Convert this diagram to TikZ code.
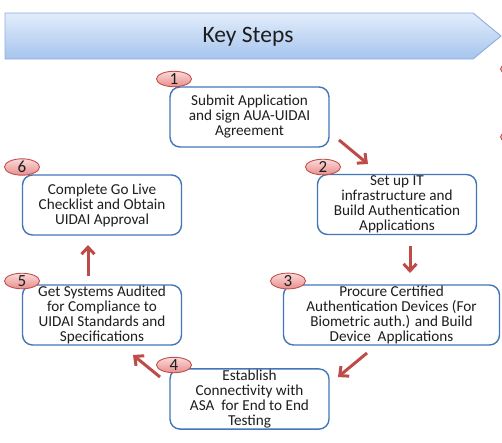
\documentclass[tikz,border=0pt]{standalone}
\usepackage{fontspec}
\setmainfont{Carlito}
\usetikzlibrary{arrows.meta,shapes.geometric}
\definecolor{boxblue}{HTML}{4276B8}
\definecolor{arrred}{HTML}{BE4B48}
\definecolor{badgeline}{HTML}{C0504D}
\definecolor{badgetop}{HTML}{FBD9D8}
\definecolor{badgebot}{HTML}{E88F8C}
\definecolor{bantop}{HTML}{E2EDFB}
\definecolor{banbot}{HTML}{A6C4EE}
\definecolor{banline}{HTML}{8EAEDB}
\definecolor{txt}{HTML}{1E1E1E}
\tikzset{
  stepbox/.style={draw=boxblue, line width=1.4pt, fill=white, rounded corners=10pt,
    minimum width=159pt, minimum height=60pt, align=center, text=txt,
    font=\fontsize{15.2}{15}\selectfont, inner sep=1pt},
  badge/.style={ellipse, draw=badgeline, line width=0.9pt, top color=badgetop, bottom color=badgebot,
    minimum width=35pt, minimum height=14pt, inner sep=0pt, text=txt,
    font=\fontsize{17}{17}\selectfont},
  arr/.style={draw=arrred, line width=3pt, -{Straight Barb[length=7pt,width=13pt,line width=3pt]}}
}
\begin{document}
\begin{tikzpicture}[x=1pt,y=-1pt]
\useasboundingbox (0,0) rectangle (502,442);
\clip (0,0) rectangle (502,442);
% banner
\draw[banline, line width=0.9pt, top color=bantop, bottom color=banbot]
  (5,13) -- (473,13) -- (501,36) -- (473,59) -- (5,59) -- cycle;
\node[text=txt, font=\fontsize{23.5}{23.5}\selectfont] (title) at (248,37) {Key Steps};
% edge badges (cut off)
\node[badge] (e1) at (518,69) {};
\node[badge] (e2) at (518,137) {};
% boxes
\node[stepbox] (b1) at (249.5,117) {Submit Application\\and sign AUA-UIDAI\\Agreement};
\node[stepbox] (b2) at (397,204.5) {Set up IT\\infrastructure and\\Build Authentication\\Applications};
\node[stepbox, minimum width=216pt] (b3) at (391.5,315) {Procure Certified\\Authentication Devices (For\\Biometric auth.) and Build\\Device\ \ Applications};
\node[stepbox] (b4) at (249.5,399) {Establish\\Connectivity with\\ASA\ \ for End to End\\Testing};
\node[stepbox] (b5) at (102,315) {Get Systems Audited\\for Compliance to\\UIDAI Standards and\\Specifications};
\node[stepbox] (b6) at (102,205) {Complete Go Live\\Checklist and Obtain\\UIDAI Approval};
% badges
\node[badge] (n1) at (174,79) {1};
\node[badge] (n2) at (323,167) {2};
\node[badge] (n3) at (288,281) {3};
\node[badge] (n4) at (174,365) {4};
\node[badge] (n5) at (22,281) {5};
\node[badge] (n6) at (22,167) {6};
% arrows
\coordinate (a12s) at (339,140);
\coordinate (a12e) at (368,164);
\coordinate (a23s) at (410,246);
\coordinate (a23e) at (410,273);
\coordinate (a34s) at (367,353);
\coordinate (a34e) at (338,377);
\coordinate (a45s) at (160,377);
\coordinate (a45e) at (133,355);
\coordinate (a56s) at (88,276);
\coordinate (a56e) at (88,245);
\draw[arr] (a12s) -- (a12e);
\draw[arr] (a23s) -- (a23e);
\draw[arr] (a34s) -- (a34e);
\draw[arr] (a45s) -- (a45e);
\draw[arr] (a56s) -- (a56e);
\end{tikzpicture}
\end{document}
